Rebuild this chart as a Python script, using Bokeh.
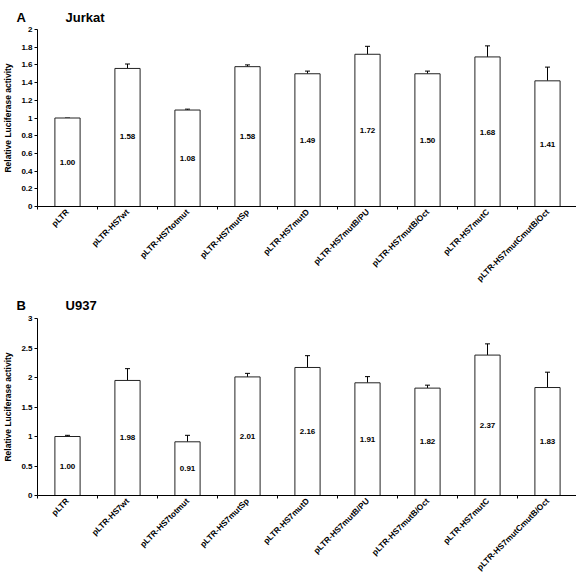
import math
from bokeh.plotting import figure
from bokeh.layouts import column
from bokeh.models import (FactorRange, Range1d, LinearAxis, CategoricalAxis, FixedTicker,
                          CustomJSTickFormatter, Whisker, TeeHead, ColumnDataSource, Title)
from bokeh.core.properties import value
from bokeh.embed import file_html
from bokeh.resources import INLINE

constructs = ["pLTR", "pLTR-HS7wt", "pLTR-HS7totmut", "pLTR-HS7mutSp", "pLTR-HS7mutD",
              "pLTR-HS7mutB/PU", "pLTR-HS7mutB/Oct", "pLTR-HS7mutC", "pLTR-HS7mutCmutB/Oct"]

jurkat_heights = [1.00, 1.56, 1.09, 1.58, 1.50, 1.72, 1.50, 1.69, 1.42]
jurkat_labels = ["1.00", "1.58", "1.08", "1.58", "1.49", "1.72", "1.50", "1.68", "1.41"]
jurkat_err = [0.0, 0.05, 0.01, 0.02, 0.03, 0.09, 0.03, 0.125, 0.155]
jurkat_ticks = [0, 0.2, 0.4, 0.6, 0.8, 1.0, 1.2, 1.4, 1.6, 1.8, 2.0]

u937_heights = [1.00, 1.95, 0.91, 2.01, 2.17, 1.91, 1.82, 2.38, 1.83]
u937_labels = ["1.00", "1.98", "0.91", "2.01", "2.16", "1.91", "1.82", "2.37", "1.83"]
u937_err = [0.02, 0.2, 0.11, 0.06, 0.2, 0.105, 0.05, 0.19, 0.26]
u937_ticks = [0, 0.5, 1.0, 1.5, 2.0, 2.5, 3.0]

FONT = "Liberation Sans"
GAP = "\u00a0" * 11


def make_panel(letter, cell, heights, labels, errs, ticks, top_border, frame_h,
               bottom_border, title_standoff):
    y_end = ticks[-1]
    p = figure(x_range=FactorRange(*constructs, range_padding=0, factor_padding=0),
               y_range=Range1d(0, y_end), frame_width=540, frame_height=frame_h,
               output_backend="svg", toolbar_location=None, tools="",
               x_axis_location=None, min_border_top=top_border, min_border_right=3,
               min_border_left=33, min_border_bottom=bottom_border)
    p.outline_line_color = None
    p.grid.visible = False
    p.background_fill_color = "white"
    p.border_fill_color = "white"

    p.add_layout(Title(text=letter + GAP + cell, align="left", offset=-21,
                       text_font=FONT, text_font_style="bold", text_font_size="13px",
                       text_color="black", standoff=title_standoff), "above")

    # tick marks at the boundaries between categories (synthetic coordinates 0..n)
    edge_axis = LinearAxis(ticker=FixedTicker(ticks=list(range(len(constructs) + 1))),
                           major_label_text_font_size="1px", major_label_text_color=None,
                           major_label_standoff=0,
                           major_tick_in=0, major_tick_out=3,
                           axis_line_color="black", major_tick_line_color="black",
                           minor_tick_line_color=None)
    cat_axis = CategoricalAxis(axis_line_color=None, major_tick_line_color=None,
                               major_tick_in=0, major_tick_out=0,
                               major_label_orientation=math.pi / 4,
                               major_label_standoff=1,
                               major_label_text_font=FONT,
                               major_label_text_font_style="bold",
                               major_label_text_font_size="8.3px",
                               major_label_text_color="black")
    p.add_layout(edge_axis, "below")
    p.add_layout(cat_axis, "below")

    ya = p.yaxis[0]
    ya.ticker = FixedTicker(ticks=ticks)
    ya.formatter = CustomJSTickFormatter(code="return String(Math.round(tick*10)/10);")
    ya.major_tick_in = 0
    ya.major_tick_out = 3
    ya.minor_tick_line_color = None
    ya.major_label_standoff = 2
    ya.major_label_text_font = FONT
    ya.major_label_text_font_style = "bold"
    ya.major_label_text_font_size = "8px"
    ya.major_label_text_color = "black"
    ya.axis_label = "Relative Luciferase activity"
    ya.axis_label_text_font = FONT
    ya.axis_label_text_font_style = "bold"
    ya.axis_label_text_font_size = "8.5px"
    ya.axis_label_text_color = "black"
    ya.axis_label_standoff = 5
    ya.axis_line_color = "black"
    ya.major_tick_line_color = "black"

    src = ColumnDataSource(dict(
        x=constructs,
        top=heights,
        upper=[h + e for h, e in zip(heights, errs)],
        label=labels,
        label_y=[float(s) / 2 for s in labels],
    ))

    p.vbar(x="x", top="top", width=0.42, source=src, fill_color="white",
           line_color="#222222", line_width=1)

    p.add_layout(Whisker(source=src, base="x", upper="upper", lower="top",
                         dimension="height", lower_head=None,
                         upper_head=TeeHead(size=5, line_color="black", line_width=1),
                         line_color="black", line_width=1))

    p.text(x="x", y="label_y", text="label", source=src, text_align="center",
           text_baseline="middle", text_font=value(FONT), text_font_style="bold",
           text_font_size="8px", text_color="black")
    return p


pa = make_panel("A", "Jurkat", jurkat_heights, jurkat_labels, jurkat_err, jurkat_ticks,
                29, 177, 78, 10)
pb = make_panel("B", "U937", u937_heights, u937_labels, u937_err, u937_ticks,
                28, 177, 88, 12)

layout = column(pa, pb, spacing=0)
open("out.html", "w").write(file_html(layout, INLINE))
